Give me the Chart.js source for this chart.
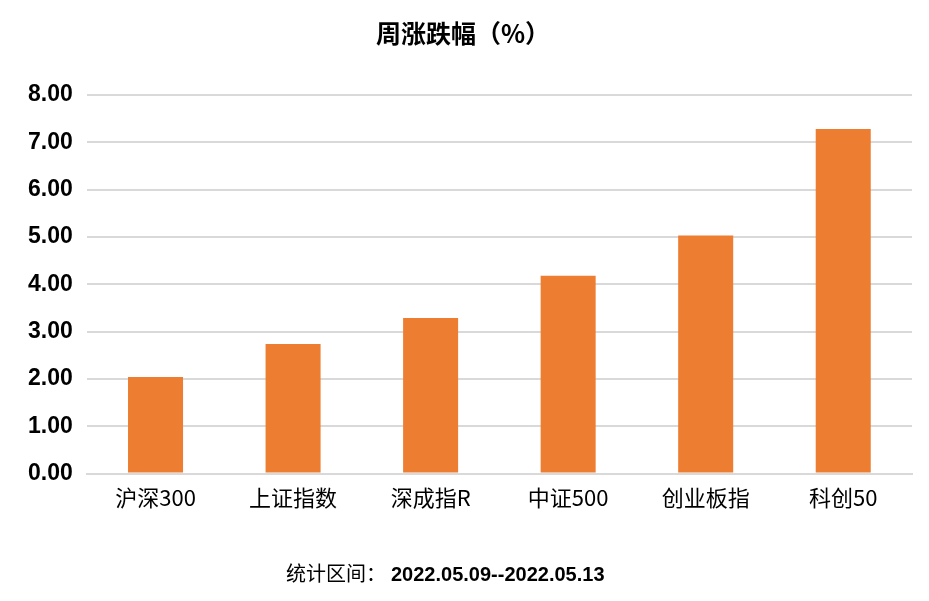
<!DOCTYPE html>
<html>
<head>
<meta charset="utf-8">
<script src="https://cdn.jsdelivr.net/npm/chart.js@4/dist/chart.umd.min.js"></script>
<style>
    html, body { margin: 0; padding: 0; background: #fff; }
    .wrap { position: relative; width: 929px; height: 601px; }
    #weekChart { display: block; }
    .footnote {
        position: absolute; left: 286px; top: 558px;
        font-family: "Noto Sans CJK SC", sans-serif; font-size: 20px; color: #000;
        white-space: nowrap;
    }
    .footnote b { font-family: "Liberation Sans", Arial, sans-serif; font-size: 20px; margin-left: 5px; }
</style>
</head>
<body>
<div class="wrap">
    <canvas id="weekChart" width="929" height="601"></canvas>
    <div class="footnote">统计区间：<b>2022.05.09--2022.05.13</b></div>
</div>
<script>
const indexNames = ['沪深300', '上证指数', '深成指R', '中证500', '创业板指', '科创50'];
const weeklyChange = [2.04, 2.74, 3.29, 4.18, 5.03, 7.28];
const yMin = 0;
const yMax = 8;
const yStep = 1;

const cjk = '"Noto Sans CJK SC", sans-serif';
const latin = '"Liberation Sans", Arial, sans-serif';

new Chart(document.getElementById('weekChart'), {
    type: 'bar',
    data: {
        labels: indexNames,
        datasets: [{
            label: '周涨跌幅（%）',
            data: weeklyChange,
            backgroundColor: '#ED7D31',
            barPercentage: 0.4,
            categoryPercentage: 1
        }]
    },
    options: {
        responsive: false,
        animation: false,
        layout: { padding: { left: 14, right: 17, top: 0, bottom: 79 } },
        plugins: {
            legend: { display: false },
            tooltip: { enabled: false },
            title: {
                display: true,
                text: '周涨跌幅（%）',
                color: '#000',
                font: { family: cjk, size: 25, weight: 'bold', lineHeight: 1.2 },
                padding: { top: 18, bottom: 47 }
            }
        },
        scales: {
            x: {
                grid: { display: false, drawTicks: false },
                border: { display: true, color: '#d9d9d9', width: 2 },
                ticks: {
                    color: '#000',
                    font: { family: cjk, size: 22 },
                    padding: 11,
                    maxRotation: 0
                }
            },
            y: {
                min: yMin,
                max: yMax,
                grid: { color: '#d9d9d9', lineWidth: 2, drawTicks: false },
                border: { display: false },
                ticks: {
                    stepSize: yStep,
                    color: '#000',
                    padding: 14,
                    font: { family: latin, size: 23, weight: 'bold' },
                    callback: (v) => Number(v).toFixed(2)
                }
            }
        }
    }
});
</script>
</body>
</html>
